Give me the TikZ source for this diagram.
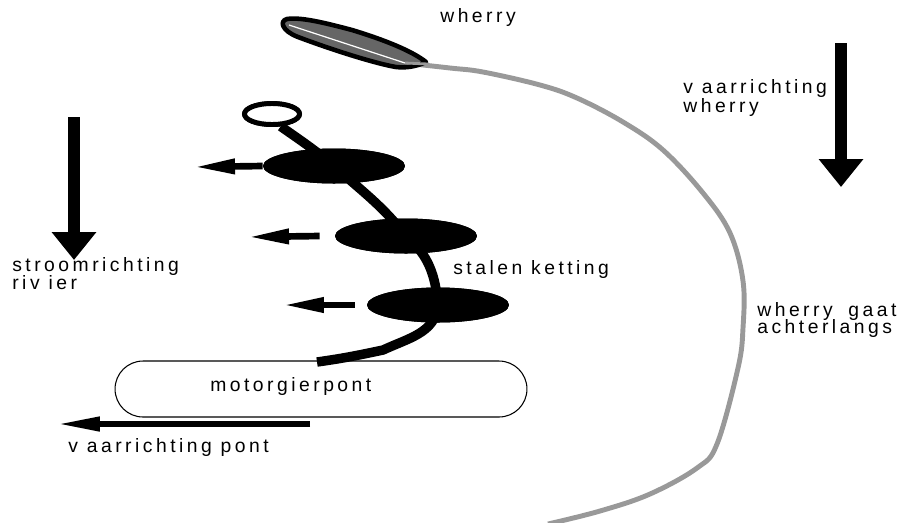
\documentclass[tikz,border=0pt]{standalone}
\usepackage{fontspec}
\setmainfont{Liberation Sans}[LetterSpace=18]
\usetikzlibrary{positioning,shapes.geometric,arrows.meta}

\begin{document}
\begin{tikzpicture}[x=0.02cm,y=-0.02cm,
  every node/.style={font=\fontsize{11}{13}\selectfont},
  tekst/.style={anchor=base west,inner sep=0pt},
  schakel/.style={ellipse,fill=black,minimum width=2.84cm,minimum height=0.7cm,inner sep=0pt},
  oog/.style={ellipse,draw,line width=2.8pt,fill=white,minimum width=1.1cm,minimum height=0.42cm,inner sep=0pt},
  ketting/.style={line width=5.4pt},
  pontvorm/.style={draw,line width=0.6pt,rounded corners=0.56cm,minimum width=8.24cm,minimum height=1.12cm},
  richting/.style={line width=6.8pt,-{Triangle[length=0.56cm,width=0.86cm]}},
  trek/.style={line width=3.8pt,-{Triangle[length=0.84cm,width=0.28cm]}},
  spoor/.style={black!40,line width=2.8pt,line join=round}]
  \useasboundingbox (0,0) rectangle (901,522);

  % route of the wherry behind the ferry
  \coordinate (boeg) at (405,63);
  \draw[spoor] plot[smooth,tension=0.6] coordinates {(boeg) (450,68) (483,72) (540,85) (577,98)
    (623,122) (663,150) (703,193) (730,233) (743,281) (743,328) (738,368)
    (717,444) (697,468) (650,494) (600,511) (548,524)};

  % the wherry
  \draw[line width=2.6pt,fill=black!60,line join=round]
    (287,19) .. controls (300,17) and (322,22) .. (352,30)
    .. controls (385,40) and (412,51) .. (426,62)
    .. controls (415,67) and (405,68) .. (396,67)
    .. controls (378,64) and (338,52) .. (298,37)
    .. controls (282,31) and (279,21) .. cycle;
  \draw[white,line width=0.7pt] (289,25) -- (boeg);
  \draw[spoor,line width=1.6pt] (boeg) -- (428,64);

  \node[tekst] (wherry) at (440,22) {wherry};

  % chain with its links
  \node[oog]      (ring) at (272,114) {};
  \node[schakel]  (s1)   at (334,166) {};
  \node[schakel]  (s2)   at (406,236) {};
  \node[schakel]  (s3)   at (438,305) {};
  \node[pontvorm] (pont) at (321,389) {};
  \coordinate (knik)   at (383,350);
  \coordinate (koppel) at (317,362);

  \draw[ketting] (ring.-55) to[out=-35,in=140] (s1.center)
    to[out=-42,in=128] (s2.center)
    to[out=-40,in=95] (s3.center)
    to[out=-95,in=25] (knik)
    to[out=-168,in=8] (koppel);
  \node[oog]     at (ring) {};
  \node[schakel] at (s1) {};
  \node[schakel] at (s2) {};
  \node[schakel] at (s3) {};

  \node[tekst] (ketting)  at (453,274) {stalen ketting};
  \node[tekst] (pontnaam) at (210,391) {motorgierpont};

  % pulling forces on the links
  \draw[trek] (s1.west) -- (193,167);
  \draw[trek] ([xshift=-0.3cm]s2.west) -- (247,237);
  \draw[trek] ([xshift=-0.24cm]s3.west) -- (282,305);

  % directions
  \draw[richting] (74,117) -- (74,260);
  \node[tekst] (stroom) at (12,271) {stroomrichting};
  \node[tekst] (rivier) at (12,289) {riv ier};

  \draw[richting] (841,43) -- (841,187);
  \node[tekst] (vaarw1) at (683,93)  {v aarrichting};
  \node[tekst] (vaarw2) at (683,112) {wherry};

  \draw[trek,line width=3.4pt,-{Triangle[length=0.86cm,width=0.27cm]}] (310,424) -- (57,424);
  \node[tekst] (vaarpont) at (68,452) {v aarrichting pont};

  \node[tekst] (gaat)   at (757,316) {wherry\hspace{0.35em} gaat};
  \node[tekst] (achter) at (757,333) {achterlangs};
\end{tikzpicture}
\end{document}
